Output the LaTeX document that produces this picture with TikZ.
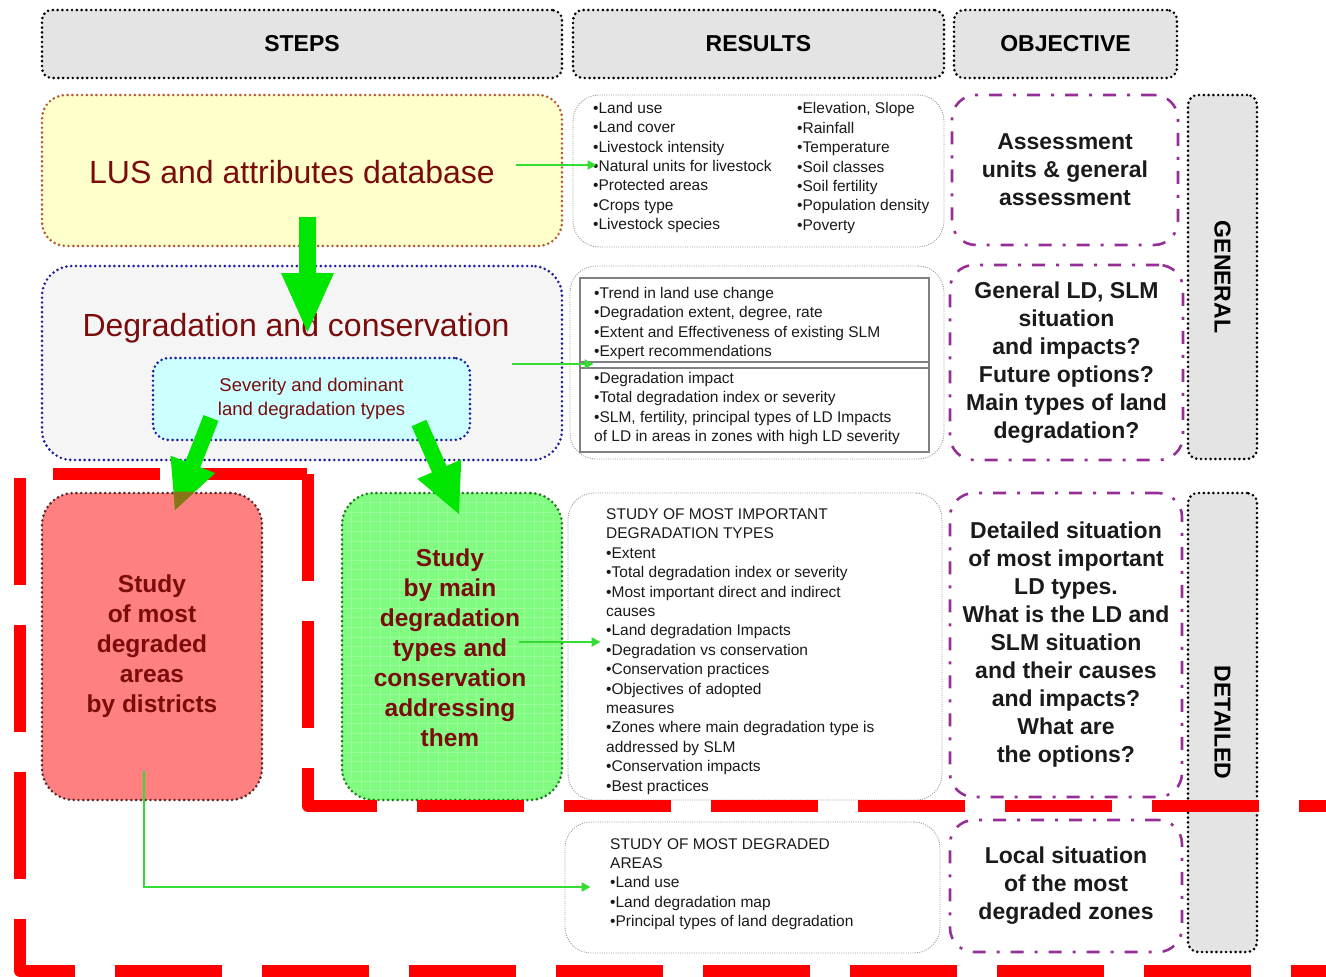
\documentclass[tikz,border=0pt]{standalone}
\usepackage{fontspec}
\setmainfont{Liberation Sans}
\usetikzlibrary{arrows.meta,calc}

\definecolor{hdrgray}{HTML}{E4E4E4}
\definecolor{lusfill}{HTML}{FFFFCC}
\definecolor{lusdot}{HTML}{B45A32}
\definecolor{degfill}{HTML}{F5F5F5}
\definecolor{degdot}{HTML}{1E1EA0}
\definecolor{sevfill}{HTML}{CCFFFF}
\definecolor{redfill}{HTML}{FF8080}
\definecolor{reddot}{HTML}{5A2828}
\definecolor{grnfill}{HTML}{80FC80}
\definecolor{grndot}{HTML}{1E7A1E}
\definecolor{darkred}{HTML}{7A0C0C}
\definecolor{resgray}{HTML}{9A9A9A}
\definecolor{restext}{HTML}{1A1A1A}
\definecolor{objpurple}{HTML}{952F95}
\definecolor{arrowgreen}{HTML}{00E600}
\definecolor{arrowolive}{HTML}{8A7418}
\definecolor{linkgreen}{HTML}{33DD33}
\definecolor{zonered}{HTML}{FF0000}

\newcommand{\hdrfont}{\bfseries\fontsize{23}{27}\selectfont}
\newcommand{\bigfont}{\fontsize{32}{38}\selectfont}
\newcommand{\sevfont}{\fontsize{18.5}{24}\selectfont}
\newcommand{\studyfont}{\bfseries\fontsize{24.5}{30}\selectfont}
\newcommand{\resfont}{\fontsize{15.5}{19.4}\selectfont}
\newcommand{\objfont}{\bfseries\fontsize{23}{28}\selectfont}

% filled block arrow: colour, from, to, shaft half width, head half width, head length
\newcommand{\fatarrow}[6]{%
  \coordinate (fa-base) at ($(#3)!#6!(#2)$);
  \fill[#1]
    ($(#2)!#4!90:(#3)$) -- ($(fa-base)!#4!90:(#3)$) -- ($(fa-base)!#5!90:(#3)$)
    -- (#3)
    -- ($(fa-base)!#5!-90:(#3)$) -- ($(fa-base)!#4!-90:(#3)$) -- ($(#2)!#4!-90:(#3)$)
    -- cycle;}

\begin{document}
\begin{tikzpicture}[x=1pt,y=-1pt,
  dotborder/.style={line width=2.9pt, dash pattern=on 0pt off 4.8pt, line cap=round},
  hdrbox/.style={dotborder, draw=black, fill=hdrgray, rounded corners=10pt, inner sep=0pt, font=\hdrfont},
  stepbox/.style={dotborder, inner sep=0pt},
  resbox/.style={draw=resgray, line width=0.9pt, dash pattern=on 1pt off 1.3pt, rounded corners=26pt, fill=white, inner sep=0pt},
  restxt/.style={font=\resfont, text=restext, align=left, inner sep=0pt},
  objbox/.style={draw=objpurple, line width=2.6pt, dash pattern=on 13pt off 11pt on 3pt off 11pt,
                 rounded corners=24pt, inner sep=0pt, align=center, font=\objfont, text=restext},
  sidetxt/.style={font=\hdrfont, rotate=-90, inner sep=0pt},
  link/.style={draw=linkgreen, line width=2.5pt, -{Triangle[length=9pt,width=9pt]}},
  zone/.style={draw=zonered, line width=12pt, dash pattern=on 107pt off 40pt, line join=round},
  gridline/.style={draw=white, opacity=0.2, line width=0.8pt}]

\useasboundingbox (0,0) rectangle (1326,977);

% column headers
\node[hdrbox, minimum width=520pt, minimum height=68pt] (hsteps) at (302,44) {STEPS};
\node[hdrbox, minimum width=371pt, minimum height=68pt] (hres) at (758.5,44) {RESULTS};
\node[hdrbox, minimum width=223pt, minimum height=68pt] (hobj) at (1065.5,44) {OBJECTIVE};

% side labels
\node[hdrbox, minimum width=69pt, minimum height=364pt] (gen) at (1222.5,277) {};
\node[sidetxt] (gentxt) at (gen.center) {GENERAL};
\node[hdrbox, minimum width=69pt, minimum height=459pt] (det) at (1222.5,722.5) {};
\node[sidetxt] (dettxt) at (det.center) {DETAILED};

% steps
\node[stepbox, draw=lusdot, fill=lusfill, rounded corners=24pt, minimum width=520pt, minimum height=151pt] (lus) at (302,170.5) {};
\node[font=\bigfont, text=darkred, anchor=base, inner sep=0pt] (lustxt) at (292,183.5) {LUS and attributes database};

\node[stepbox, draw=degdot, fill=degfill, rounded corners=30pt, minimum width=520pt, minimum height=194pt] (deg) at (302,363) {};
\node[font=\bigfont, text=darkred, anchor=base, inner sep=0pt] (degtxt) at (296,336.5) {Degradation and conservation};
\node[stepbox, draw=degdot, fill=sevfill, rounded corners=16pt, minimum width=317pt, minimum height=82pt,
      font=\sevfont, text=darkred, align=center] (sev) at (311.5,399) {Severity and dominant\\land degradation types};

\node[stepbox, draw=reddot, fill=redfill, rounded corners=32pt, minimum width=220pt, minimum height=307pt,
      font=\studyfont, text=darkred, align=center] (red) at (152,646.5) {Study\\of most\\degraded\\areas\\by districts};

\node[stepbox, draw=grndot, fill=grnfill, rounded corners=32pt, minimum width=220pt, minimum height=307pt] (grn) at (452,646.5) {};
\begin{scope}
  \clip[rounded corners=29pt] (345,496) rectangle (559,797);
  \foreach \g in {0,...,23} {\draw[gridline] ({342+9.6*\g},493) -- ({342+9.6*\g},800);}
  \foreach \g in {0,...,32} {\draw[gridline] (342,{493+9.6*\g}) -- (562,{493+9.6*\g});}
\end{scope}
\node[font=\studyfont, text=darkred, align=center, inner sep=0pt] (grntxt) at (450,648)
  {Study\\by main\\degradation\\types and\\conservation\\addressing\\them};

% results
\node[resbox, minimum width=371pt, minimum height=152pt] (res1) at (758.5,171) {};
\node[restxt, anchor=west] (res1a) at (593,167.5)
  {•Land use\\•Land cover\\•Livestock intensity\\•Natural units for livestock\\•Protected areas\\•Crops type\\•Livestock species};
\node[restxt, anchor=west] (res1b) at (797,168)
  {•Elevation, Slope\\•Rainfall\\•Temperature\\•Soil classes\\•Soil fertility\\•Population density\\•Poverty};

\node[resbox, minimum width=374pt, minimum height=193pt] (res2) at (757,362.5) {};
\node[draw=gray, line width=1.1pt, inner sep=0pt, minimum width=349pt, minimum height=174pt] (res2in) at (754.5,365) {};
\draw[gray, line width=1.1pt] (res2in.west |- 0,362) -- (res2in.east |- 0,362);
\draw[gray, line width=1.1pt] (res2in.west |- 0,368) -- (res2in.east |- 0,368);
\node[restxt, anchor=west] (res2a) at (594,323.5)
  {•Trend in land use change\\•Degradation extent, degree, rate\\•Extent and Effectiveness of existing SLM\\•Expert recommendations};
\node[restxt, anchor=west] (res2b) at (594,408.5)
  {•Degradation impact\\•Total degradation index or severity\\•SLM, fertility, principal types of LD Impacts\\of LD in areas in zones with high LD severity};

\node[resbox, minimum width=374pt, minimum height=307pt] (res3) at (755,646.5) {};
\node[restxt, anchor=west] (res3a) at (606,651.5)
  {STUDY OF MOST IMPORTANT\\DEGRADATION TYPES\\•Extent\\•Total degradation index or severity\\•Most important direct and indirect\\causes\\•Land degradation Impacts\\•Degradation vs conservation\\•Conservation practices\\•Objectives of adopted\\measures\\•Zones where main degradation type is\\addressed by SLM\\•Conservation impacts\\•Best practices};

\node[resbox, minimum width=375pt, minimum height=131pt] (res4) at (752.5,887.5) {};
\node[restxt, anchor=west] (res4a) at (610,884)
  {STUDY OF MOST DEGRADED\\AREAS\\•Land use\\•Land degradation map\\•Principal types of land degradation};

% objectives
\node[objbox, minimum width=226pt, minimum height=150pt] (obj1) at (1065,170) {Assessment\\units \& general\\assessment};
\node[objbox, minimum width=233pt, minimum height=195pt] (obj2) at (1066.5,362.5)
  {General LD, SLM\\situation\\and impacts?\\Future options?\\Main types of land\\degradation?};
\node[objbox, minimum width=232pt, minimum height=304pt] (obj3) at (1066,645)
  {Detailed situation\\of most important\\LD types.\\What is the LD and\\SLM situation\\and their causes\\and impacts?\\What are\\the options?};
\node[objbox, minimum width=232pt, minimum height=132pt] (obj4) at (1066,886)
  {Local situation\\of the most\\degraded zones};

% thin links from steps to results
\coordinate (lk1s) at ($(lus.east)+(-47,-5.5)$);
\coordinate (lk1e) at ($(res1.west)+(24,-6)$);
\coordinate (lk2s) at ($(deg.east)+(-51,1)$);
\coordinate (lk2e) at ($(res2.west)+(24,1.5)$);
\coordinate (lk3s) at ($(grn.east)+(-44,-4.5)$);
\coordinate (lk3e) at ($(res3.west)+(33,-4.5)$);
\coordinate (lk4s) at ($(red.south)+(-8,-30)$);
\coordinate (lk4e) at ($(res4.west)+(26,-0.5)$);
\draw[link] (lk1s) -- (lk1e);
\draw[link] (lk2s) -- (lk2e);
\draw[link] (lk3s) -- (lk3e);
\draw[link] (lk4s) |- (lk4e);

% dashed outline of the detailed part
\draw[zone] (53,474) -- (308,474);
\draw[zone] (308,474) -- (308,806) -- (1340,806);
\draw[zone] (20,478) -- (20,971) -- (1340,971);

% block arrows between steps
\coordinate (ba1s) at (307.5,217);
\coordinate (ba1e) at (307.5,332);
\coordinate (ba2s) at (211,418);
\coordinate (ba2e) at (175,510);
\coordinate (ba3s) at (419,423);
\coordinate (ba3e) at (459,514);
\fatarrow{arrowgreen}{ba1s}{ba1e}{8.5pt}{26.5pt}{59pt}
\fatarrow{arrowgreen}{ba2s}{ba2e}{8pt}{24pt}{49pt}
\fatarrow{arrowgreen}{ba3s}{ba3e}{8pt}{24pt}{49pt}
% the tip that reaches into the red box shows through its tint
\begin{scope}
  \clip[rounded corners=32pt] (red.south west) rectangle (red.north east);
  \fatarrow{arrowolive}{ba2s}{ba2e}{8pt}{24pt}{49pt}
\end{scope}

\end{tikzpicture}
\end{document}
